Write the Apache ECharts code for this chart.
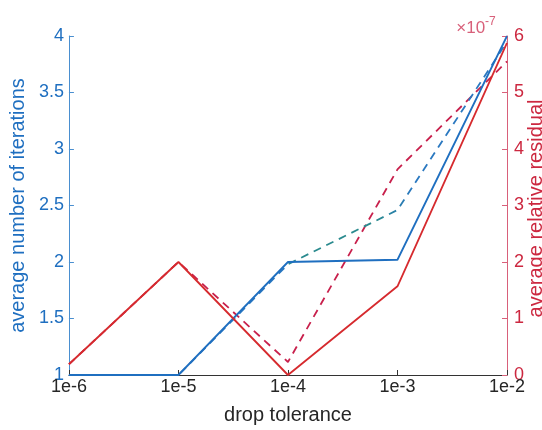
<!DOCTYPE html>
<html>
<head>
<meta charset="utf-8">
<script src="https://cdn.jsdelivr.net/npm/echarts@6/dist/echarts.min.js"></script>
<style>
html,body{margin:0;padding:0;background:#fff;}
#chart{width:542px;height:430px;}
</style>
</head>
<body>
<div id="chart"></div>
<script>
const categories = ['1e-6', '1e-5', '1e-4', '1e-3', '1e-2'];
const itersSolid = [1, 1, 2.0, 2.02, 4.0];
const itersDashed = [1, 1, 1.98, 2.46, 3.95];
const residSolid = [0.19e-7, 2.0e-7, 0, 1.57e-7, 5.88e-7];
const residDashed = [0.19e-7, 2.0e-7, 0.23e-7, 3.64e-7, 5.55e-7];
const leftTicks = [1, 4, 0.5];
const rightTicks = [0, 6e-7, 1e-7];

const BLUE = '#1f6fc0';
const BLUE_AX = '#4a8fd0';
const RED = '#d62a2e';
const RED_D = '#c8204c';
const RED_AX = '#d8607a';
const RED_TXT = '#cc2840';
const FONT = 'Liberation Sans, Arial, Helvetica, sans-serif';

const chart = echarts.init(document.getElementById('chart'));
chart.setOption({
  animation: false,
  backgroundColor: '#fff',
  textStyle: { fontFamily: FONT },
  grid: { left: 66, right: 35, top: 36, bottom: 48.5, containLabel: false },
  xAxis: {
    type: 'category',
    data: categories,
    boundaryGap: false,
    name: 'drop tolerance',
    nameLocation: 'middle',
    nameGap: 30,
    nameTextStyle: { color: '#262626', fontSize: 20, fontFamily: FONT },
    axisLine: { lineStyle: { color: '#333', width: 1 } },
    axisTick: { inside: true, length: 5, lineStyle: { color: '#333' } },
    axisLabel: { color: '#262626', fontSize: 18, margin: 3, fontFamily: FONT },
    splitLine: { show: false }
  },
  yAxis: [
    {
      type: 'value',
      min: leftTicks[0], max: leftTicks[1], interval: leftTicks[2],
      position: 'left',
      name: 'average number of iterations',
      nameLocation: 'middle',
      nameGap: 36,
      nameTextStyle: { color: BLUE, fontSize: 20, fontFamily: FONT },
      axisLine: { show: true, lineStyle: { color: BLUE_AX, width: 1 } },
      axisTick: { show: true, inside: true, length: 5, lineStyle: { color: BLUE_AX } },
      axisLabel: { color: BLUE, fontSize: 18, margin: 5, fontFamily: FONT },
      splitLine: { show: false }
    },
    {
      type: 'value',
      min: rightTicks[0], max: rightTicks[1], interval: rightTicks[2],
      position: 'right',
      axisLine: { show: true, lineStyle: { color: RED_AX, width: 1 } },
      axisTick: { show: true, inside: true, length: 5, lineStyle: { color: RED_AX } },
      axisLabel: {
        color: RED_TXT, fontSize: 18, margin: 7, fontFamily: FONT,
        formatter: v => String(Math.round(v / 1e-7))
      },
      splitLine: { show: false }
    }
  ],
  graphic: [
    {
      type: 'text',
      x: 536, y: 208.5,
      rotation: Math.PI / 2,
      style: {
        text: 'average relative residual',
        fill: RED_TXT,
        font: '20px ' + FONT,
        textAlign: 'center',
        textVerticalAlign: 'middle'
      }
    },
    {
      type: 'text',
      x: 476, y: 26,
      style: {
        text: '{a|×10}{b|-7}',
        textAlign: 'center',
        textVerticalAlign: 'middle',
        rich: {
          a: { fill: RED_AX, color: RED_AX, fontSize: 17, fontFamily: FONT, verticalAlign: 'bottom' },
          b: { fill: RED_AX, color: RED_AX, fontSize: 12, fontFamily: FONT, verticalAlign: 'top', padding: [0, 0, 9, 0] }
        }
      }
    }
  ],
  series: [
    {
      type: 'line', yAxisIndex: 1, data: residDashed, symbol: 'none',
      lineStyle: { color: RED_D, width: 1.8, type: [8, 6] }
    },
    {
      type: 'line', yAxisIndex: 0, data: itersDashed, symbol: 'none',
      lineStyle: {
        width: 1.8, type: [8, 6],
        color: new echarts.graphic.LinearGradient(0, 0, 1, 0, [
          { offset: 0, color: '#2a78c0' },
          { offset: 0.5, color: '#2a78c0' },
          { offset: 0.5, color: '#2a8a8e' },
          { offset: 0.7, color: '#2a8a8e' },
          { offset: 0.78, color: '#2a78c0' },
          { offset: 1, color: '#2a78c0' }
        ])
      }
    },
    {
      type: 'line', yAxisIndex: 0, data: itersSolid, symbol: 'none',
      lineStyle: { color: BLUE, width: 1.8 }
    },
    {
      type: 'line', yAxisIndex: 1, data: residSolid, symbol: 'none',
      lineStyle: { color: RED, width: 1.8 }
    }
  ]
});
</script>
</body>
</html>
